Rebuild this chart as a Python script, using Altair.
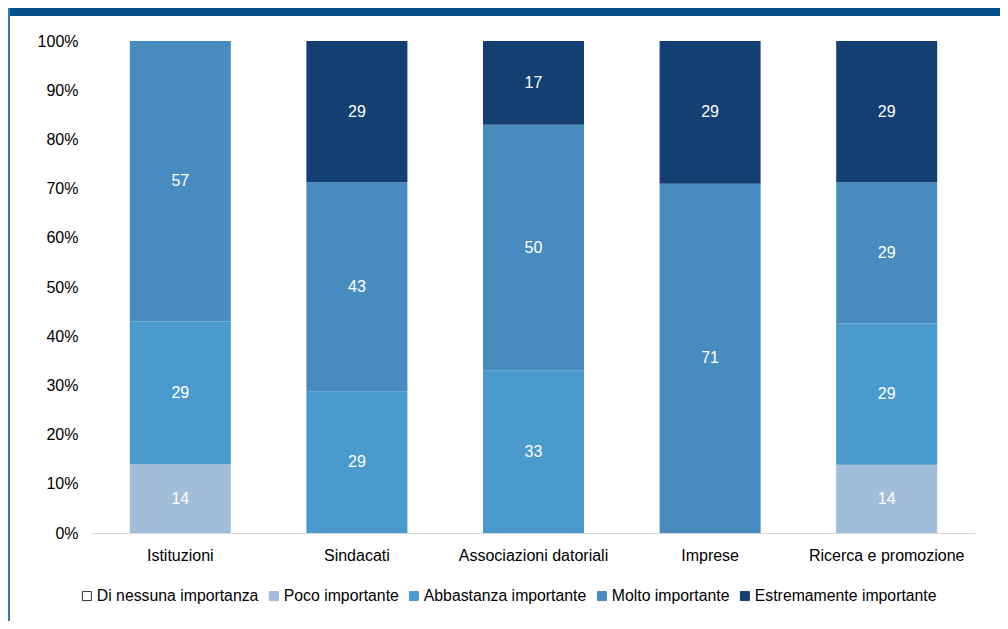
import altair as alt
import pandas as pd

categories = ["Istituzioni", "Sindacati", "Associazioni datoriali", "Imprese", "Ricerca e promozione"]
levels = ["Di nessuna importanza", "Poco importante", "Abbastanza importante",
          "Molto importante", "Estremamente importante"]
nessuna = [0, 0, 0, 0, 0]
poco = [14, 0, 0, 0, 14]
abbastanza = [29, 29, 33, 0, 29]
molto = [57, 43, 50, 71, 29]
estremamente = [0, 29, 17, 29, 29]
y_ticks = [0, 0.1, 0.2, 0.3, 0.4, 0.5, 0.6, 0.7, 0.8, 0.9, 1.0]

fill_colors = ["#ffffff", "#a1bdd9", "#4a9acd", "#488cbf", "#143f72"]
stroke_colors = ["#333333", "#a1bdd9", "#4a9acd", "#488cbf", "#143f72"]

series = [nessuna, poco, abbastanza, molto, estremamente]
rows = []
for li, (lev, vals) in enumerate(zip(levels, series)):
    for cat, v in zip(categories, vals):
        if v > 0:
            rows.append({"cat": cat, "level": lev, "order": li, "value": v})
df = pd.DataFrame(rows)

FONT = "Liberation Sans"

legend = alt.Legend(
    title=None, orient="none", direction="horizontal", legendX=-13, legendY=547,
    symbolType="square", symbolSize=81, symbolStrokeWidth=1,
    labelFontSize=15.8, labelFont=FONT, labelColor="#000000", labelOffset=2,
    labelLimit=400, columnPadding=7, padding=0, columns=5,
)

base = (
    alt.Chart(df)
    .transform_joinaggregate(total="sum(value)", groupby=["cat"])
    .transform_calculate(pct="datum.value / datum.total")
    .transform_stack(stack="pct", as_=["y0", "y1"], groupby=["cat"],
                     sort=[alt.SortField("order", order="ascending")])
    .transform_calculate(ymid="(datum.y0 + datum.y1) / 2")
)

xenc = alt.X(
    "cat:N", sort=categories, title=None,
    scale=alt.Scale(paddingInner=0.428, paddingOuter=0.214),
    axis=alt.Axis(labelAngle=0, ticks=False, domainColor="#d9d9d9", domainWidth=1,
                  labelFontSize=16, labelFont=FONT, labelColor="#000000", labelPadding=14,
                  grid=False),
)

bars = base.mark_bar(strokeWidth=0).encode(
    x=xenc,
    y=alt.Y("y0:Q", title=None, scale=alt.Scale(domain=[0, 1], nice=False),
            axis=alt.Axis(values=y_ticks, format=".0%", domain=False, ticks=False, grid=False,
                          labelFontSize=16, labelFont=FONT, labelColor="#000000",
                          labelPadding=14)),
    y2="y1:Q",
    fill=alt.Fill("level:N", scale=alt.Scale(domain=levels, range=fill_colors), legend=legend),
    stroke=alt.Stroke("level:N", scale=alt.Scale(domain=levels, range=stroke_colors), legend=legend),
)

labels = base.mark_text(color="white", fontSize=16, font=FONT, baseline="middle").encode(
    x=alt.X("cat:N", sort=categories),
    y=alt.Y("ymid:Q"),
    text=alt.Text("value:Q"),
)

top_band = alt.Chart(pd.DataFrame({"a": [0]})).mark_rect(color="#05508a").encode(
    x=alt.value(-84), x2=alt.value(908), y=alt.value(-33), y2=alt.value(-25)
)
left_border = alt.Chart(pd.DataFrame({"a": [0]})).mark_rect(color="#3b79b3").encode(
    x=alt.value(-84), x2=alt.value(-82), y=alt.value(-33), y2=alt.value(580)
)

chart = (
    alt.layer(top_band, left_border, bars, labels)
    .properties(
        width=883, height=492,
        autosize=alt.AutoSizeParams(type="none"),
        padding={"left": 84, "top": 33, "right": 25, "bottom": 88},
        background="white",
    )
    .configure_view(stroke=None, strokeWidth=0)
    .configure_axis(grid=False)
)

chart.save("out.html", embed_options={"renderer": "svg", "actions": False})
